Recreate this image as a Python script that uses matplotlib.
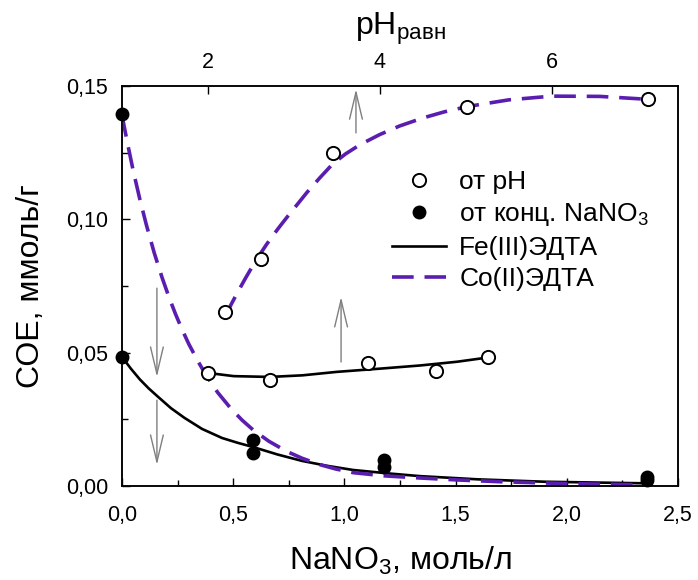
import numpy as np
import matplotlib
matplotlib.use("Agg")
import matplotlib.pyplot as plt
from matplotlib.ticker import MultipleLocator, FuncFormatter

plt.rcParams['font.family'] = ['Liberation Sans', 'DejaVu Sans']
plt.rcParams['mathtext.fontset'] = 'custom'
plt.rcParams['mathtext.rm'] = 'Liberation Sans'
plt.rcParams['mathtext.it'] = 'Liberation Sans'

# --- data ---
# sorption vs NaNO3 concentration (bottom axis), filled points
conc_x = [0.0, 0.59, 1.18, 2.36]
conc_fe = [0.0484, 0.0124, 0.0071, 0.0024]
conc_co = [0.1395, 0.0172, 0.0097, 0.0033]

# sorption vs pH (top axis), open points
ph_co = [2.20, 2.62, 3.45, 5.02, 7.12]
sorb_ph_co = [0.0652, 0.0850, 0.1250, 0.1420, 0.1450]
ph_fe = [2.00, 2.72, 3.86, 4.65, 5.26]
sorb_ph_fe = [0.0424, 0.0397, 0.0461, 0.0431, 0.0484]

# fitted curves
fit_conc_fe_x = [0.0, 0.04, 0.08, 0.12, 0.16, 0.22, 0.28, 0.36, 0.45, 0.52, 0.59,
                 0.70, 0.81, 0.92, 1.04, 1.20, 1.34, 1.60, 1.90, 2.36]
fit_conc_fe_y = [0.0484, 0.0440, 0.0400, 0.0366, 0.0336, 0.0292, 0.0256, 0.0214,
                 0.0180, 0.0162, 0.0146, 0.0118, 0.0094, 0.0076, 0.0060, 0.0047,
                 0.0037, 0.0025, 0.0016, 0.0010]
fit_conc_co_x = [0.0, 0.025, 0.05, 0.08, 0.11, 0.145, 0.18, 0.21, 0.24, 0.27, 0.30,
                 0.34, 0.38, 0.43, 0.49, 0.54, 0.59, 0.66, 0.74, 0.81, 0.89, 0.96,
                 1.04, 1.18, 1.34, 1.50, 1.70, 2.00, 2.36]
fit_conc_co_y = [0.1390, 0.1284, 0.1184, 0.1076, 0.0978, 0.0874, 0.0782, 0.0711,
                 0.0646, 0.0587, 0.0533, 0.0470, 0.0413, 0.0351, 0.0290, 0.0247,
                 0.0210, 0.0168, 0.0130, 0.0104, 0.0080, 0.0064, 0.0050, 0.0038,
                 0.0030, 0.0023, 0.0016, 0.0009, 0.0004]
fit_ph_co_x = [2.20, 2.28, 2.36, 2.44, 2.52, 2.60, 2.68, 2.76, 2.84, 2.92, 3.00,
               3.15, 3.30, 3.45, 3.60, 3.77, 4.00, 4.23, 4.50, 4.75, 5.02, 5.50,
               6.00, 6.56, 7.12]
fit_ph_co_y = [0.0637, 0.0687, 0.0735, 0.0781, 0.0825, 0.0866, 0.0905, 0.0941,
               0.0975, 0.1008, 0.1040, 0.1100, 0.1155, 0.1207, 0.1245, 0.1280,
               0.1318, 0.1350, 0.1380, 0.1403, 0.1423, 0.1448, 0.1462, 0.1461,
               0.1450]
fit_ph_fe_x = [2.00, 2.30, 2.72, 3.10, 3.50, 4.00, 4.47, 4.90, 5.26]
fit_ph_fe_y = [0.0424, 0.0412, 0.0409, 0.0415, 0.0428, 0.0440, 0.0452, 0.0466, 0.0482]

# gray arrows (tail -> head), bottom-axis coordinates
arrows = [((0.157, 0.0742), (0.157, 0.0409)),
          ((0.157, 0.0322), (0.157, 0.0079)),
          ((0.985, 0.0465), (0.985, 0.0709)),
          ((1.052, 0.1324), (1.052, 0.1488))]

purple = '#5a1db0'
dash = (6.0, 3.0)

fig = plt.figure(figsize=(6.98, 5.80), dpi=100)
ax = fig.add_axes([122 / 698, 1 - 486 / 580, (678 - 122) / 698, 400 / 580])
ax2 = ax.twiny()

ax.set_xlim(0, 2.5)
ax.set_ylim(0, 0.15)
ax2.set_xlim(1.0, 7.47)

# curves
l_fe, = ax.plot(fit_conc_fe_x, fit_conc_fe_y, color='black', lw=1.9, zorder=3)
l_co, = ax.plot(fit_conc_co_x, fit_conc_co_y, color=purple, lw=2.6,
                dashes=dash, zorder=4)
ax2.plot(fit_ph_fe_x, fit_ph_fe_y, color='black', lw=1.9, zorder=3)
ax2.plot(fit_ph_co_x, fit_ph_co_y, color=purple, lw=2.6, dashes=dash, zorder=4)

# points
p_filled, = ax.plot(conc_x, conc_fe, 'o', color='black', ms=9, zorder=5, clip_on=False)
ax.plot(conc_x, conc_co, 'o', color='black', ms=9, zorder=5, clip_on=False)
p_open, = ax2.plot(ph_co, sorb_ph_co, 'o', mfc='white', mec='black', mew=1.4, ms=9.5, zorder=5)
ax2.plot(ph_fe, sorb_ph_fe, 'o', mfc='white', mec='black', mew=1.4, ms=9.5, zorder=5)

for tail, head in arrows:
    ax.annotate('', xy=head, xytext=tail,
                arrowprops=dict(arrowstyle='->, head_length=0.97, head_width=0.23',
                                color='#7f7f7f', lw=1.0, shrinkA=0, shrinkB=0,
                                mutation_scale=20))

# ticks
comma2 = FuncFormatter(lambda v, p: ('%.2f' % v).replace('.', ','))
comma1 = FuncFormatter(lambda v, p: ('%.1f' % v).replace('.', ','))
ax.xaxis.set_major_locator(MultipleLocator(0.5))
ax.xaxis.set_minor_locator(MultipleLocator(0.25))
ax.yaxis.set_major_locator(MultipleLocator(0.05))
ax.yaxis.set_minor_locator(MultipleLocator(0.025))
ax.xaxis.set_major_formatter(comma1)
ax.yaxis.set_major_formatter(comma2)
ax.tick_params(which='both', direction='in', top=False, right=False, labelsize=15.5,
               width=1.0)
ax.tick_params(which='major', length=6)
ax.tick_params(which='minor', length=4)
ax.tick_params(axis='x', pad=14)
ax.tick_params(axis='y', pad=10)
ax2.set_xticks([2, 4, 6])
ax2.tick_params(direction='in', length=6, width=1.0, labelsize=15.5, pad=9)

for a in (ax, ax2):
    for s in a.spines.values():
        s.set_linewidth(1.1)

ax.set_xlabel('NaNO$_3$, моль/л', fontsize=23, labelpad=13)
ax.set_ylabel('СОЕ, ммоль/г', fontsize=23, labelpad=14)
ax2.set_xlabel(r'pH$_{\mathrm{равн}}$', fontsize=23, labelpad=13)

ax.legend([p_open, p_filled, l_fe, l_co],
          ['от pH', 'от конц. NaNO$_3$', 'Fe(III)ЭДТА', 'Co(II)ЭДТА'],
          loc='upper left', bbox_to_anchor=(392 / 698, 1 - 170 / 580),
          bbox_transform=fig.transFigure, frameon=False, fontsize=19,
          handlelength=2.05, handletextpad=0.5, labelspacing=0.28,
          borderpad=0, borderaxespad=0)

fig.savefig('out.png', dpi=100)
